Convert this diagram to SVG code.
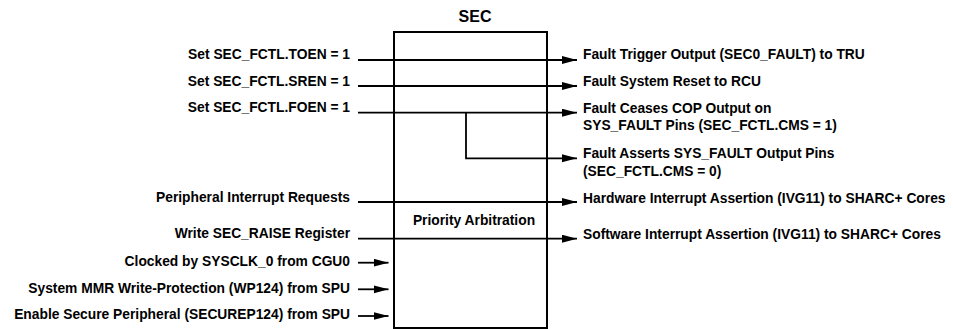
<svg xmlns="http://www.w3.org/2000/svg" width="953" height="329" viewBox="0 0 953 329">
  <defs>
    <style>
      text { font-family: "Liberation Sans", Arial, sans-serif; font-weight: bold; font-size: 13.8px; fill: #000; }
      .l { text-anchor: end; }
      .title { font-size: 16px; text-anchor: middle; }
      .mid { text-anchor: middle; }
      .box { fill: #fff; stroke: #000; stroke-width: 2; }
      .wire { fill: none; stroke: #000; stroke-width: 1.8; }
      .arr { marker-end: url(#ah); }
    </style>
    <marker id="ah" markerUnits="userSpaceOnUse" markerWidth="16" markerHeight="9" refX="15" refY="4" orient="auto">
      <path d="M0,0 L15,4 L0,8 z" fill="#000"/>
    </marker>
  </defs>
  <rect width="953" height="329" fill="#fff"/>

  <g id="sec">
    <rect class="box" x="394" y="32" width="153" height="296"/>
    <text class="title" x="475" y="22">SEC</text>
    <text class="mid" x="474" y="225.3">Priority Arbitration</text>
  </g>

  <g id="connectors">
    <line class="wire arr" x1="358" y1="60" x2="577" y2="60"/>
    <line class="wire arr" x1="358" y1="86" x2="577" y2="86"/>
    <line class="wire arr" x1="358" y1="112.7" x2="577" y2="112.7"/>
    <polyline class="wire arr" points="466,112.7 466,158.3 577,158.3"/>
    <line class="wire arr" x1="358" y1="202" x2="577" y2="202"/>
    <line class="wire arr" x1="358" y1="238.7" x2="577" y2="238.7"/>
    <line class="wire arr" x1="358" y1="262.7" x2="388.5" y2="262.7"/>
    <line class="wire arr" x1="358" y1="289.3" x2="388.5" y2="289.3"/>
    <line class="wire arr" x1="358" y1="316" x2="388.5" y2="316"/>
  </g>

  <g id="inputs">
    <text class="l" x="350" y="59.3">Set SEC_FCTL.TOEN = 1</text>
    <text class="l" x="350" y="85.5">Set SEC_FCTL.SREN = 1</text>
    <text class="l" x="350" y="112">Set SEC_FCTL.FOEN = 1</text>
    <text class="l" x="350" y="201.7">Peripheral Interrupt Requests</text>
    <text class="l" x="350" y="238.3">Write SEC_RAISE Register</text>
    <text class="l" x="350" y="266">Clocked by SYSCLK_0 from CGU0</text>
    <text class="l" x="350" y="292.7">System MMR Write-Protection (WP124) from SPU</text>
    <text class="l" x="350" y="319.3">Enable Secure Peripheral (SECUREP124) from SPU</text>
  </g>

  <g id="outputs">
    <text x="583" y="58.7">Fault Trigger Output (SEC0_FAULT) to TRU</text>
    <text x="583" y="85.7">Fault System Reset to RCU</text>
    <text x="583" y="112.7">Fault Ceases COP Output on</text>
    <text x="583" y="129.5">SYS_FAULT Pins (SEC_FCTL.CMS = 1)</text>
    <text x="583" y="158.3">Fault Asserts SYS_FAULT Output Pins</text>
    <text x="583" y="176.3">(SEC_FCTL.CMS = 0)</text>
    <text x="583" y="203">Hardware Interrupt Assertion (IVG11) to SHARC+ Cores</text>
    <text x="583" y="239">Software Interrupt Assertion (IVG11) to SHARC+ Cores</text>
  </g>
</svg>
